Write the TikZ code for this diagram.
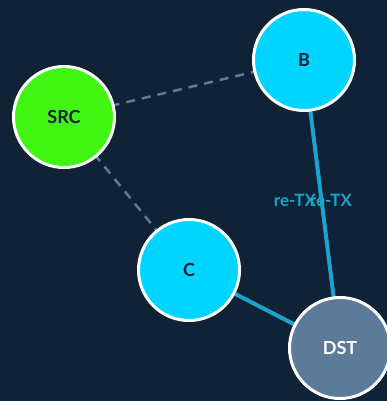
\documentclass[tikz,border=0pt]{standalone}
\usepackage{fontspec}
\setmainfont{Lato}
\definecolor{bg}{HTML}{0F2236}
\definecolor{srcg}{HTML}{40F512}
\definecolor{cyanN}{HTML}{00D5FF}
\definecolor{dstc}{HTML}{5B7B99}
\definecolor{dashc}{HTML}{5B7B99}
\definecolor{linkc}{HTML}{1AA3CC}
\definecolor{txtd}{HTML}{0F2236}
\begin{document}
\begin{tikzpicture}[x=1pt,y=-1pt,
  nodec/.style={circle,draw=white,line width=3pt,minimum size=101pt,inner sep=0pt,font=\bfseries\fontsize{18}{18}\selectfont},
  dashedge/.style={draw=dashc,line width=2.5pt,dash pattern=on 9pt off 7pt},
  linkedge/.style={draw=linkc,line width=4pt},
  lbl/.style={text=linkc,font=\bfseries\fontsize{17}{17}\selectfont,inner sep=0pt}]
\fill[bg] (0,0) rectangle (387,401);
\useasboundingbox (0,0) rectangle (387,401);
\coordinate (srcp) at (64,117);
\coordinate (bp) at (304,60);
\coordinate (cp) at (189,270);
\coordinate (dstp) at (340,348);
\draw[dashedge] (srcp) -- (bp);
\draw[dashedge] (srcp) -- (cp);
\draw[linkedge] (bp) -- (dstp);
\draw[linkedge] (cp) -- (dstp);
\node[nodec,fill=srcg,text=txtd] (src) at (srcp) {SRC};
\node[nodec,fill=cyanN,text=txtd] (b) at (bp) {B};
\node[nodec,fill=cyanN,text=txtd] (c) at (cp) {C};
\node[nodec,fill=dstc,text=white] (dst) at (dstp) {DST};
\node[lbl] (l1) at (295,200) {re-TX};
\node[lbl] (l2) at (331,200) {re-TX};
\end{tikzpicture}
\end{document}
